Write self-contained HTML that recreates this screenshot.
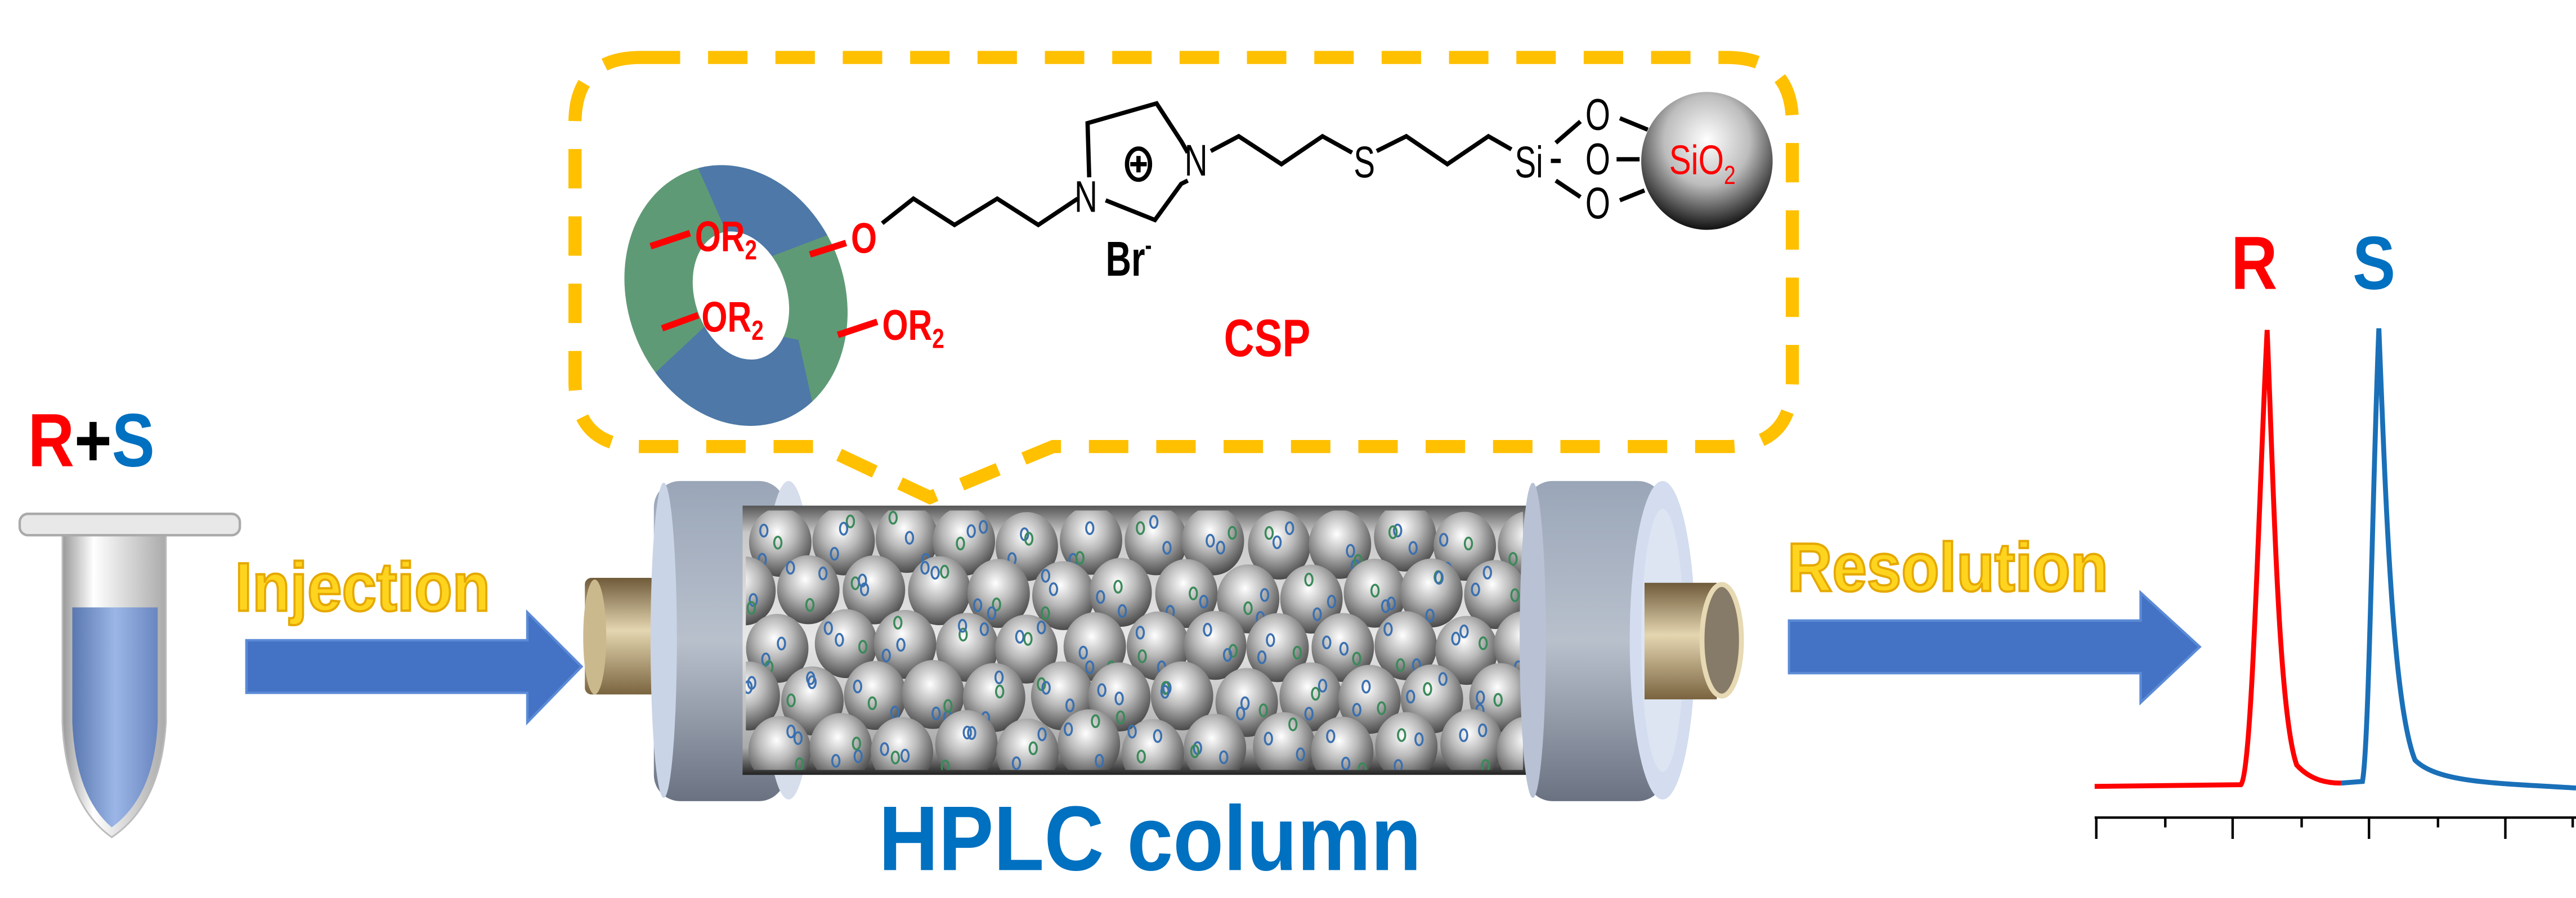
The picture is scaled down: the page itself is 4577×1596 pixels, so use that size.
<!DOCTYPE html>
<html><head><meta charset="utf-8"><style>
html,body{margin:0;padding:0;background:#fff;}
svg{display:block;}
text{font-family:"Liberation Sans",Arial,sans-serif;font-weight:bold;}
</style></head><body>
<svg id="s" width="4577" height="1596" viewBox="0 0 1568 547" preserveAspectRatio="none" xmlns="http://www.w3.org/2000/svg">
<defs>
<radialGradient id="sph" cx="0.45" cy="0.35" r="0.65"><stop offset="0" stop-color="#ffffff"/><stop offset="0.45" stop-color="#b9b9b9"/><stop offset="1" stop-color="#4a4a4a"/></radialGradient>
<radialGradient id="sio" cx="0.5" cy="0.35" r="0.65"><stop offset="0" stop-color="#ffffff"/><stop offset="0.5" stop-color="#bdbdbd"/><stop offset="1" stop-color="#111"/></radialGradient>
<linearGradient id="colb" x1="0" y1="0" x2="0" y2="1"><stop offset="0" stop-color="#555"/><stop offset="0.1" stop-color="#c8c8c8"/><stop offset="0.5" stop-color="#e8e8e8"/><stop offset="0.9" stop-color="#aaa"/><stop offset="1" stop-color="#222"/></linearGradient>
<linearGradient id="fl" x1="0" y1="0" x2="0" y2="1"><stop offset="0" stop-color="#9aa6b8"/><stop offset="0.5" stop-color="#b8c0cc"/><stop offset="1" stop-color="#6a7282"/></linearGradient>
<linearGradient id="gold" x1="0" y1="0" x2="0" y2="1"><stop offset="0" stop-color="#6f5a3a"/><stop offset="0.45" stop-color="#e4d6b0"/><stop offset="1" stop-color="#7a6440"/></linearGradient>
<linearGradient id="tube" x1="0" y1="0" x2="1" y2="0"><stop offset="0" stop-color="#999"/><stop offset="0.3" stop-color="#fff"/><stop offset="1" stop-color="#aaa"/></linearGradient>
<linearGradient id="liq" x1="0" y1="0" x2="1" y2="0"><stop offset="0" stop-color="#5a78b0"/><stop offset="0.5" stop-color="#9bb6e6"/><stop offset="1" stop-color="#6a86c0"/></linearGradient>
<clipPath id="tor"><ellipse cx="448" cy="180" rx="66" ry="81" transform="rotate(-20 448 180)"/></clipPath>
<clipPath id="inner"><rect x="454" y="311" width="473" height="158"/></clipPath>
</defs>

<!-- dashed CSP box -->
<path d="M390,35 L1051,35 Q1091,35 1091,75 L1091,232 Q1091,272 1051,272 L641,272 L566,303 L500,272 L390,272 Q350,272 350,232 L350,75 Q350,35 390,35 Z" fill="none" stroke="#FFC000" stroke-width="8" stroke-dasharray="24,17"/>

<!-- torus -->
<g clip-path="url(#tor)">
<rect x="350" y="80" width="200" height="190" fill="#5f9a76"/>
<path d="M415,80 L470,80 L512,140 L470,156 L446,150 Z" fill="#4d78a8"/>
<path d="M370,262 L400,226 L432,196 L486,207 L500,270 Z" fill="#4d78a8"/>
</g>
<ellipse cx="451" cy="180" rx="28" ry="40" transform="rotate(-18 451 180)" fill="#fff"/>
<!-- OR2 groups -->
<g fill="#f00" font-size="26">
<line x1="396" y1="150" x2="420" y2="142" stroke="#f00" stroke-width="4"/>
<text transform="translate(423,153) scale(0.78,1)">OR<tspan font-size="17" dy="5">2</tspan></text>
<line x1="403" y1="200" x2="425" y2="192" stroke="#f00" stroke-width="4"/>
<text transform="translate(427,202) scale(0.78,1)">OR<tspan font-size="17" dy="5">2</tspan></text>
<line x1="510" y1="204" x2="534" y2="196" stroke="#f00" stroke-width="4"/>
<text transform="translate(537,207) scale(0.78,1)">OR<tspan font-size="17" dy="5">2</tspan></text>
<line x1="493" y1="155" x2="515" y2="148" stroke="#f00" stroke-width="4"/>
<text transform="translate(518,154) scale(0.78,1)">O</text>
</g>
<!-- chain -->
<g fill="none" stroke="#000" stroke-width="2.6" stroke-linejoin="miter">
<polyline points="537,136 556,121 581,137 607,121 632,137 650,125 656,121"/>
<polyline points="663,108 662,75 704,63 719,86 723,93"/>
<polyline points="723,110 719,112 703,134 673,122"/>
<polyline points="737,92 754,83 780,100 805,83 823,93"/>
<polyline points="838,92 856,83 881,100 906,83 920,91"/>
<line x1="947" y1="87" x2="962" y2="74"/>
<line x1="947" y1="110" x2="962" y2="120"/>
<line x1="944" y1="98" x2="950" y2="98"/>
<line x1="986" y1="72" x2="1003" y2="79"/>
<line x1="984" y1="97" x2="998" y2="97"/>
<line x1="986" y1="122" x2="1001" y2="116"/>
<ellipse cx="693" cy="100" rx="7" ry="9.5"/>
<line x1="688" y1="100" x2="698" y2="100"/><line x1="693" y1="95" x2="693" y2="105"/>
</g>
<g fill="#000" font-size="27">
<text transform="translate(654,129) scale(0.72,1)" style="font-weight:normal">N</text>
<text transform="translate(721,107) scale(0.72,1)" style="font-weight:normal">N</text>
<text transform="translate(824,108) scale(0.72,1)" style="font-weight:normal">S</text>
<text transform="translate(922,108) scale(0.72,1)" style="font-weight:normal">Si</text>
<text transform="translate(965,79) scale(0.72,1)" style="font-weight:normal">O</text>
<text transform="translate(965,106) scale(0.72,1)" style="font-weight:normal">O</text>
<text transform="translate(965,133) scale(0.72,1)" style="font-weight:normal">O</text>
<text transform="translate(673,168) scale(0.72,1)" font-size="30">Br<tspan font-size="17" dy="-13">-</tspan></text>
</g>
<ellipse cx="1039" cy="98" rx="40" ry="42" fill="url(#sio)"/>
<text transform="translate(1016,106) scale(0.8,1)" fill="#f00" font-size="25" style="font-weight:normal">SiO<tspan font-size="16" dy="6">2</tspan></text>
<text transform="translate(745,217) scale(0.8,1)" fill="#f00" font-size="32">CSP</text>

<!-- R+S and tube -->
<text transform="translate(17,284) scale(0.85,1)" font-size="46"><tspan fill="#f00">R</tspan><tspan fill="#000">+</tspan><tspan fill="#0070C0">S</tspan></text>
<path d="M38,326 L101,326 L101,440 Q98,490 68,510 Q40,490 38,440 Z" fill="url(#tube)" stroke="#bbb" stroke-width="1"/>
<path d="M44,370 L96,370 L96,440 Q94,485 68,504 Q46,485 44,440 Z" fill="url(#liq)"/>
<rect x="12" y="313" width="134" height="13" rx="5" fill="#e8e8e8" stroke="#aaa" stroke-width="1.5"/>

<!-- Injection -->
<text transform="translate(143,372) scale(0.9,1)" font-size="42" fill="#FFD41F" stroke="#E5A800" stroke-width="1.4">Injection</text>
<path d="M150,390 L321,390 L321,373 L354,406 L321,440 L321,422 L150,422 Z" fill="#4472C4" stroke="#5b8ad6" stroke-width="1.5"/>

<!-- column -->
<rect x="356" y="352" width="44" height="71" rx="4" fill="url(#gold)"/>
<ellipse cx="362" cy="388" rx="7" ry="35" fill="#cbb98e"/>
<rect x="398" y="293" width="80" height="195" rx="16" fill="url(#fl)"/>
<ellipse cx="404" cy="390" rx="8" ry="96" fill="#c9d4e6"/>
<ellipse cx="480" cy="390" rx="16" ry="97" fill="#d6deec"/>
<rect x="452" y="308" width="478" height="164" fill="url(#colb)"/>
<g id="beads" clip-path="url(#inner)"></g>
<rect x="929" y="293" width="84" height="195" rx="16" fill="url(#fl)"/>
<ellipse cx="933" cy="390" rx="8" ry="96" fill="#b8c2d4"/>
<ellipse cx="1012" cy="390" rx="20" ry="97" fill="#d3ddef"/>
<ellipse cx="1012" cy="390" rx="13" ry="80" fill="#dde5f3"/>
<rect x="1001" y="355" width="44" height="71" fill="url(#gold)"/>
<ellipse cx="1048" cy="390" rx="12" ry="34" fill="#867a68" stroke="#e6d9b3" stroke-width="3"/>
<text transform="translate(700,530) scale(0.9,1)" text-anchor="middle" font-size="56" fill="#0070C0">HPLC column</text>

<!-- Resolution -->
<text transform="translate(1088,360) scale(0.9,1)" font-size="42" fill="#FFD41F" stroke="#E5A800" stroke-width="1.4">Resolution</text>
<path d="M1089,378 L1303,378 L1303,361 L1339,394 L1303,428 L1303,410 L1089,410 Z" fill="#4472C4" stroke="#5b8ad6" stroke-width="1.5"/>

<!-- chromatogram -->
<text transform="translate(1358,176) scale(0.85,1)" font-size="46" fill="#f00">R</text>
<text transform="translate(1432,176) scale(0.85,1)" font-size="46" fill="#0070C0">S</text>
<path d="M1275,479 L1364,478 C1371,470 1375,300 1380,201 C1384,300 1387,435 1398,466 C1407,476 1418,477 1425,477" fill="none" stroke="#f00" stroke-width="3"/>
<path d="M1425,477 L1438,476 C1442,455 1444,300 1448,200 C1452,300 1456,428 1470,463 C1484,477 1520,477 1568,480" fill="none" stroke="#1a70b8" stroke-width="3"/>
<g stroke="#000" stroke-width="1.5">
<line x1="1275" y1="498" x2="1568" y2="498"/>
<line x1="1276" y1="498" x2="1276" y2="511"/><line x1="1318" y1="498" x2="1318" y2="504"/>
<line x1="1359" y1="498" x2="1359" y2="511"/><line x1="1401" y1="498" x2="1401" y2="504"/>
<line x1="1442" y1="498" x2="1442" y2="511"/><line x1="1484" y1="498" x2="1484" y2="504"/>
<line x1="1525" y1="498" x2="1525" y2="511"/><line x1="1566" y1="498" x2="1566" y2="504"/>
</g>
</svg>
<script>
(function(){
var g=document.getElementById('beads'),h='';
var seed=7;function r(){seed=(seed*9301+49297)%233280;return seed/233280;}
var rows=[330,362,394,426,456];
for(var i=0;i<rows.length;i++){
 var off=(i%2)?0:19;
 for(var x=456+off;x<940;x+=38){
  var cx=x+(r()-0.5)*6,cy=rows[i]+(r()-0.5)*6;
  h+='<ellipse cx="'+cx+'" cy="'+cy+'" rx="19" ry="21" fill="url(#sph)"/>';
  for(var k=0;k<3;k++){
   var dx=(r()-0.5)*26,dy=(r()-0.5)*28;
   h+='<ellipse cx="'+(cx+dx)+'" cy="'+(cy+dy)+'" rx="2.2" ry="3.6" fill="none" stroke="'+(k%2?'#3a8a5a':'#3a70b0')+'" stroke-width="1.2"/>';
  }
 }
}
g.innerHTML=h;
})();
</script>
</body></html>
